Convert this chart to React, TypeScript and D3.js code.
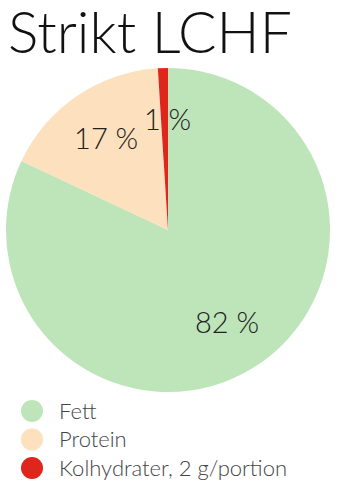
import React from "react";
import * as d3 from "d3";

const categories = ["Fett", "Protein", "Kolhydrater, 2 g/portion"];
const values = [82, 17, 1];
const labels = ["82 %", "17 %", "1 %"];
const colors = ["#bde5b9", "#fde0bd", "#de261c"];

export default function App() {
  const W = 338, H = 491;
  const cx = 168, cy = 230, r = 162;
  const pie = d3.pie<number>().sort(null).value((d) => d);
  const arcs = pie(values);
  const arc = d3.arc<d3.PieArcDatum<number>>().innerRadius(0).outerRadius(r);
  const labelArc = d3.arc<d3.PieArcDatum<number>>().innerRadius(110).outerRadius(110);
  const font = "Lato, 'Open Sans', sans-serif";
  return (
    <svg width={W} height={H} style={{ position: "absolute", left: 0, top: 0 }}>
      <rect width={W} height={H} fill="#fff" />
      <text x={8} y={53} fontFamily={font} fontWeight={300} fontSize={57} fill="#111">Strikt LCHF</text>
      <g transform={`translate(${cx},${cy})`}>
        {arcs.map((a, i) => (
          <path key={i} d={arc(a) as string} fill={colors[i]} />
        ))}
        {arcs.map((a, i) => {
          const [x, y] = labelArc.centroid(a);
          return (
            <text key={i} x={x + (i === 2 ? 3 : 0)} y={y} dy="0.35em" textAnchor="middle" fontFamily={font} fontWeight={300} fontSize={29} fill="#222">
              {labels[i]}
            </text>
          );
        })}
      </g>
      {categories.map((c, i) => (
        <g key={i} transform={`translate(0,${411 + i * 28.5})`}>
          <circle cx={32} cy={0} r={11} fill={colors[i]} />
          <text x={59} y={0} dy="0.35em" fontFamily={font} fontWeight={300} fontSize={22} fill="#444">{c}</text>
        </g>
      ))}
    </svg>
  );
}
